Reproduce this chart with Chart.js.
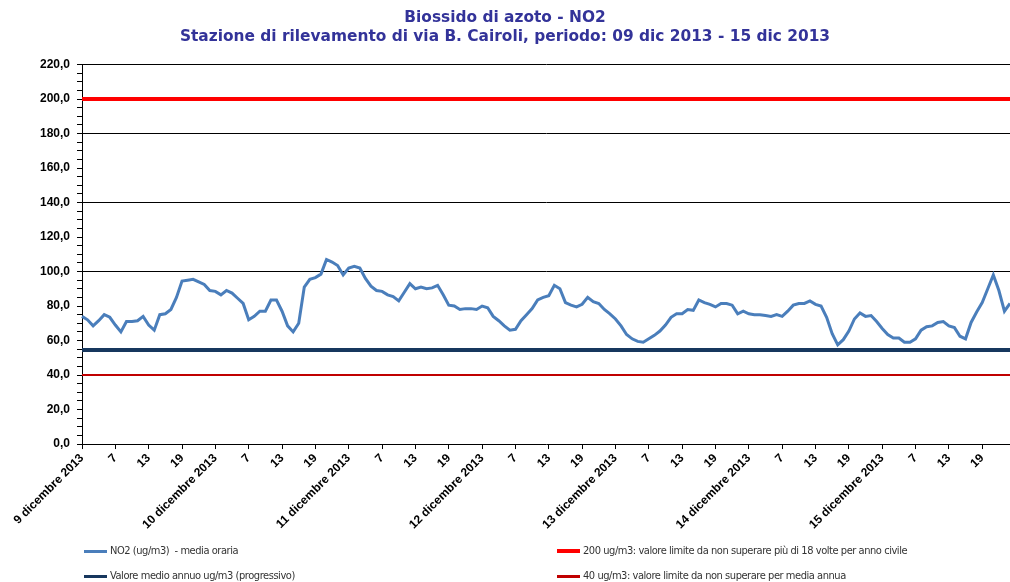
<!DOCTYPE html>
<html>
<head>
<meta charset="utf-8">
<script src="https://cdn.jsdelivr.net/npm/chart.js@4"></script>
<style>
  body { margin: 0; background: #fff; }
  #wrap { position: relative; width: 1010px; height: 582px; }
  .leg { position: absolute; font-family: "Liberation Sans Narrow", "DejaVu Sans Condensed", sans-serif; font-size: 11px; letter-spacing: -0.45px; color: #333; white-space: nowrap; line-height: 12px; }
  .leg span { display: inline-block; width: 23px; vertical-align: middle; margin-right: 3px; }
</style>
</head>
<body>
<div id="wrap">
  <canvas id="grafico"></canvas>
  <div class="leg" style="left:84px; top:545px;"><span style="border-top:3px solid #4A7EBB;"></span>NO2 (ug/m3)&nbsp; - media oraria</div>
  <div class="leg" style="left:84px; top:570px;"><span style="border-top:3px solid #17375E;"></span>Valore medio annuo ug/m3 (progressivo)</div>
  <div class="leg" style="left:557px; top:545px;"><span style="border-top:4px solid #FF0000;"></span>200 ug/m3: valore limite da non superare più di 18 volte per anno civile</div>
  <div class="leg" style="left:557px; top:570px;"><span style="border-top:3px solid #C00000;"></span>40 ug/m3: valore limite da non superare per media annua</div>
</div>
<script>
// giorni e ore della settimana 09-15 dicembre 2013
const giorni = ["9 dicembre 2013", "10 dicembre 2013", "11 dicembre 2013", "12 dicembre 2013",
                "13 dicembre 2013", "14 dicembre 2013", "15 dicembre 2013"];
const ore = [1, 2, 3, 4, 5, 6, 7, 8, 9, 10, 11, 12, 13, 14, 15, 16, 17, 18, 19, 20, 21, 22, 23, 24];

// NO2 media oraria (ug/m3)
const no2 = [
  74, 72, 68.5, 71.5, 75, 73.5, 69, 65, 71, 71, 71.5, 74, 69, 66, 75, 75.5, 78, 85, 94.5, 95, 95.5, 94, 92.5, 89,
  88.5, 86.5, 89, 87.5, 84.5, 81.5, 72, 74, 77, 77, 83.5, 83.5, 77, 68.5, 65, 70, 91, 95.5, 96.5, 98.5, 107, 105.5, 103.5, 98,
  102, 103, 102, 96, 91.5, 89, 88.5, 86.5, 85.5, 83, 88, 93, 90, 91, 90, 90.5, 92, 86.5, 80.5, 80, 78, 78.5, 78.5, 78,
  80, 79, 74, 71.5, 68.5, 66, 66.5, 71.5, 75, 78.5, 83.5, 85, 86, 92, 90, 82, 80.5, 79.5, 81, 85, 82.5, 81.5, 78, 75.5,
  72.5, 68.5, 63.5, 61, 59.5, 59, 61, 63, 65.5, 69, 73.5, 75.5, 75.5, 78, 77.5, 83.5, 82, 81, 79.5, 81.5, 81.5, 80.5,
  75.5, 77, 75.5, 75, 75, 74.5, 74, 75, 74, 77, 80.5, 81.5, 81.5, 83, 81, 80, 73.5, 64, 57.5, 60.5, 65.5, 72.5, 76, 74,
  74.5, 71, 67, 63.5, 61.5, 61.5, 59, 59, 61, 66, 68, 68.5, 70.5, 71, 68.5, 67.5, 62.5, 61, 70.5, 76.5, 82, 90, 98, 89, 77, 81.5
];

const MEDIA_ANNUA = 54.5;      // valore medio annuo progressivo
const LIMITE_ORARIO = 200;     // limite orario
const LIMITE_ANNUO = 40;       // limite media annua

const yGriglia = [100, 140, 180, 220];

const categorie = [];
giorni.forEach(g => ore.forEach(h => categorie.push(h === 1 ? g : String(h))));

const costante = v => categorie.map(() => v);

const ctx = document.getElementById("grafico").getContext("2d");
new Chart(ctx, {
  type: "line",
  data: {
    labels: categorie,
    datasets: [
      { label: "NO2 (ug/m3)  - media oraria", data: no2, borderColor: "#4A7EBB", borderWidth: 3 },
      { label: "200 ug/m3: valore limite da non superare più di 18 volte per anno civile", data: costante(LIMITE_ORARIO), borderColor: "#FF0000", borderWidth: 4 },
      { label: "Valore medio annuo ug/m3 (progressivo)", data: costante(MEDIA_ANNUA), borderColor: "#17375E", borderWidth: 4 },
      { label: "40 ug/m3: valore limite da non superare per media annua", data: costante(LIMITE_ANNUO), borderColor: "#C00000", borderWidth: 2 }
    ]
  },
  options: {
    responsive: true,
    maintainAspectRatio: false,
    animation: false,
    elements: { point: { radius: 0 }, line: { tension: 0, borderCapStyle: "butt" } },
    layout: { padding: { left: 0, right: 0, top: 0, bottom: 48 } },
    plugins: {
      legend: { display: false },
      tooltip: { enabled: false },
      title: {
        display: true,
        text: ["Biossido di azoto - NO2", "Stazione di rilevamento di via B. Cairoli, periodo: 09 dic 2013 - 15 dic 2013"],
        color: "#333399",
        font: { family: "DejaVu Sans", size: 15.4, weight: "bold", lineHeight: 1.25 },
        padding: { top: 8, bottom: 18 }
      }
    },
    scales: {
      x: {
        offset: false,
        grid: { drawOnChartArea: false, drawTicks: true, tickLength: 5, tickColor: "#000" },
        border: { color: "#000", width: 1 },
        ticks: {
          autoSkip: false,
          maxRotation: 45,
          minRotation: 45,
          padding: 2,
          color: "#000",
          font: { family: "Liberation Sans", size: 12, weight: "bold" },
          callback: function (val, idx) {
            return idx % 6 === 0 ? this.getLabelForValue(val) : null;
          }
        }
      },
      y: {
        min: 0,
        max: 220,
        afterFit: s => { s.width = 82; },
        grid: {
          color: c => yGriglia.includes(c.tick.value) ? "#000" : "rgba(0,0,0,0)",
          tickColor: "#000",
          tickLength: 5
        },
        border: { color: "#000", width: 1 },
        ticks: {
          stepSize: 5,
          autoSkip: false,
          padding: 7,
          color: "#000",
          font: { family: "Liberation Sans", size: 12, weight: "bold" },
          callback: v => v % 20 === 0 ? v.toFixed(1).replace(".", ",") : ""
        }
      }
    }
  }
});
</script>
</body>
</html>
